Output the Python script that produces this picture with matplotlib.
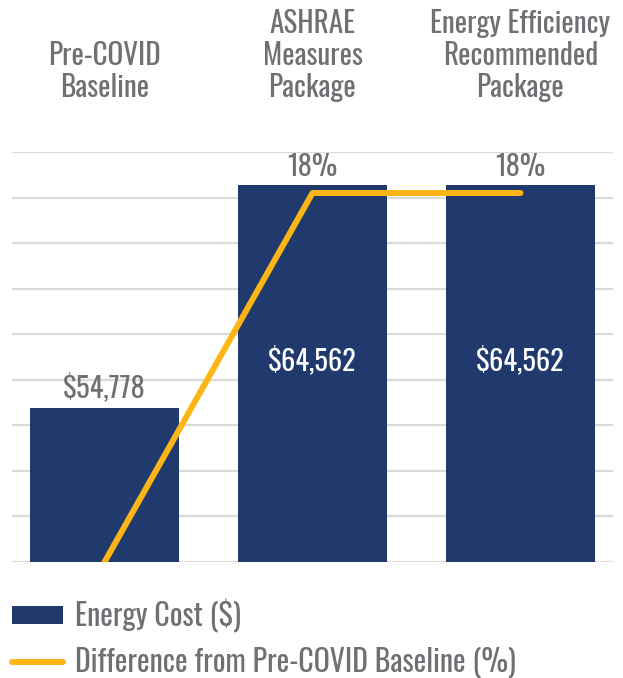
import matplotlib.pyplot as plt
from matplotlib.transforms import blended_transform_factory

categories = ["Pre-COVID\nBaseline", "ASHRAE\nMeasures\nPackage", "Energy Efficiency\nRecommended\nPackage"]
energy_cost = [54778, 64562, 64562]
pct_diff = [0, 18, 18]
cost_labels = ["$54,778", "$64,562", "$64,562"]
pct_labels = ["", "18%", "18%"]

navy = "#213a6e"
gold = "#fdb515"
gray = "#6e7074"
plt.rcParams["font.family"] = ["Oswald", "Roboto Condensed", "DejaVu Sans"]
plt.rcParams["font.weight"] = 400

W, H = 623, 678
fig = plt.figure(figsize=(W / 100, H / 100), dpi=100)
# axes box in pixels: left 12, right 613, top 152, bottom 562
ax = fig.add_axes([12 / W, (H - 562) / H, 601 / W, 410 / H])

x = range(len(categories))
bars = ax.bar(x, energy_cost, width=0.716, color=navy, zorder=2, label="Energy Cost ($)")
ax.set_ylim(48000, 66000)
ax.set_xlim(-0.445, 2.445)
ax.set_yticks(range(48000, 66001, 2000))
ax.grid(axis="y", color="#dadada", linewidth=1.6, zorder=0)
for s in ax.spines.values():
    s.set_visible(False)

ax2 = ax.twinx()
ax2.set_ylim(0, 20)
line, = ax2.plot(x, pct_diff, color=gold, linewidth=4.3, solid_capstyle="round",
                 solid_joinstyle="round", zorder=3, label="Difference from Pre-COVID Baseline (%)")
ax2.axis("off")
ax.tick_params(left=False, bottom=False, right=False, labelleft=False, labelbottom=False)

# value labels
for i, v in enumerate(energy_cost):
    if i == 0:
        ax.annotate(cost_labels[i], (i, v), xytext=(0, 10), textcoords="offset pixels",
                    ha="center", va="baseline", fontsize=20.5, color=gray)
    else:
        ax.annotate(cost_labels[i], (i, v), xytext=(0, -185), textcoords="offset pixels",
                    ha="center", va="baseline", fontsize=20.5, color="white")
        ax.annotate(pct_labels[i], (i, v), xytext=(0, 9), textcoords="offset pixels",
                    ha="center", va="baseline", fontsize=20.5, color=gray)

# category headers above the plot, last line baseline at y=97 px
tr = blended_transform_factory(ax.transData, fig.transFigure)
for i, c in enumerate(categories):
    for j, ln in enumerate(reversed(c.split("\n"))):
        ax.text(i, 1 - (97 - 32 * j) / H, ln, transform=tr, ha="center", va="baseline",
                fontsize=21, color=gray)

fig.legend(handles=[bars, line], loc="upper left", bbox_to_anchor=(0, 1 - 586 / H),
           frameon=False, fontsize=21.5, labelcolor=gray, handlelength=1.7,
           handleheight=0.58, handletextpad=0.4, labelspacing=0.5, borderaxespad=0)

fig.savefig("out.png", dpi=100)
